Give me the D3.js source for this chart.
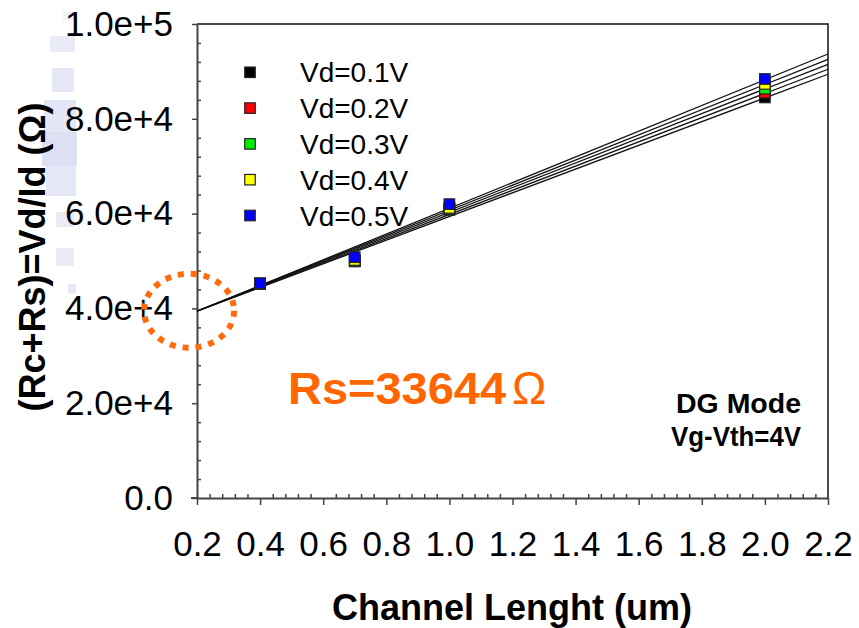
<!DOCTYPE html>
<html>
<head>
  <meta charset="utf-8" />
  <title>Rs extraction</title>
  <style>
    body { margin: 0; background: #fff; }
    svg { display: block; font-family: "Liberation Sans", Arial, sans-serif; }
  </style>
  <script src="https://cdnjs.cloudflare.com/ajax/libs/d3/7.8.5/d3.min.js"></script>
</head>
<body>
  <div id="chart"></div>
  <script>
    // channel lengths (um)
    var lengths = [0.4, 0.7, 1.0, 2.0];
    var seriesNames = ['Vd=0.1V', 'Vd=0.2V', 'Vd=0.3V', 'Vd=0.4V', 'Vd=0.5V'];
    var seriesColors = ['#000000', '#ff0000', '#00ee00', '#ffff00', '#0000ff'];
    // (Rc+Rs) in ohm, one array per Vd
    var vd01 = [45200, 49900, 60800, 84500];
    var vd02 = [45200, 50000, 60900, 85500];
    var vd03 = [45250, 50000, 61000, 86350];
    var vd04 = [45250, 50200, 61200, 87350];
    var vd05 = [45300, 50800, 62000, 88400];
    // fitted lines, value at L=0.2 and L=2.2
    var fitStart = [39400, 39400, 39450, 39450, 39400];
    var fitEnd = [89400, 90450, 91500, 92550, 93670];
    var xTickValues = [0.2, 0.4, 0.6, 0.8, 1.0, 1.2, 1.4, 1.6, 1.8, 2.0, 2.2];
    var yTickValues = [0, 20000, 40000, 60000, 80000, 100000];
    var yTickLabels = ['0.0', '2.0e+4', '4.0e+4', '6.0e+4', '8.0e+4', '1.0e+5'];
    var rsText = 'Rs=33644';
    var modeText = ['DG Mode', 'Vg-Vth=4V'];

    var allSeries = [vd01, vd02, vd03, vd04, vd05];

    var W = 859, H = 628;
    var margin = { top: 24, right: 31, bottom: 130, left: 197 };
    var w = W - margin.left - margin.right,
      h = H - margin.top - margin.bottom;

    var svg = d3.select('#chart').append('svg')
      .attr('width', W)
      .attr('height', H);

    // faded scan noise at left edge of the original figure
    var noise = [[63, 12, 12, 8, 0.15], [50, 36, 25, 16, 0.22], [52, 68, 22, 24, 0.25],
      [44, 100, 32, 32, 0.28], [42, 132, 35, 34, 0.34], [46, 166, 30, 30, 0.26],
      [56, 212, 18, 15, 0.22], [56, 248, 18, 18, 0.22], [68, 284, 8, 9, 0.25]];
    svg.append('g').selectAll('rect').data(noise).enter().append('rect')
      .attr('x', d => d[0]).attr('y', d => d[1])
      .attr('width', d => d[2]).attr('height', d => d[3])
      .attr('fill', '#9aa5dc').attr('opacity', d => d[4]);

    var g = svg.append('g').attr('transform', 'translate(' + margin.left + ',' + margin.top + ')');

    var x = d3.scaleLinear().domain([0.2, 2.2]).range([0, w]);
    var y = d3.scaleLinear().domain([0, 100000]).range([h, 0]);

    // frame (top and right)
    g.append('path')
      .attr('d', 'M0,0H' + w + 'V' + h)
      .attr('fill', 'none').attr('stroke', '#111').attr('stroke-width', 1.5);

    // minor ticks (inside)
    var xMinor = d3.axisTop(x).tickValues(d3.range(0.2, 2.2001, 0.04).filter(v => Math.abs(v * 5 - Math.round(v * 5)) > 0.01))
      .tickSize(4).tickFormat('');
    g.append('g').attr('transform', 'translate(0,' + h + ')').call(xMinor)
      .call(a => a.select('.domain').remove());
    var yMinor = d3.axisRight(y).tickValues(d3.range(0, 100001, 4000).filter(v => v % 20000 !== 0))
      .tickSize(4).tickFormat('');
    g.append('g').call(yMinor).call(a => a.select('.domain').remove());

    // major axes
    var xAxis = d3.axisBottom(x).tickValues(xTickValues).tickSize(7).tickSizeOuter(0).tickPadding(26)
      .tickFormat(d => d.toFixed(1));
    g.append('g').attr('class', 'xaxis').attr('transform', 'translate(0,' + h + ')').call(xAxis);
    var yAxis = d3.axisLeft(y).tickValues(yTickValues).tickSize(5).tickSizeOuter(0).tickPadding(19)
      .tickFormat((d, i) => yTickLabels[i]);
    g.append('g').attr('class', 'yaxis').call(yAxis);

    g.selectAll('.xaxis, .yaxis').selectAll('.domain').attr('stroke', '#444').attr('stroke-width', 2);
    g.selectAll('.tick line').attr('stroke', '#444').attr('stroke-width', 1.5);
    g.selectAll('.xaxis text, .yaxis text')
      .attr('font-size', 35).attr('fill', '#000')
      .attr('font-family', '"Liberation Sans", Arial, sans-serif');
    // axis line extends a bit left past the origin
    g.append('line').attr('x1', -6).attr('x2', 0).attr('y1', h).attr('y2', h)
      .attr('stroke', '#444').attr('stroke-width', 2);

    // fit lines
    g.append('g').selectAll('line').data(fitStart).enter().append('line')
      .attr('x1', x(0.2)).attr('x2', x(2.2))
      .attr('y1', d => y(d)).attr('y2', (d, i) => y(fitEnd[i]))
      .attr('stroke', '#111').attr('stroke-width', 1.3);

    // markers
    var ms = 10.5;
    allSeries.forEach(function (vals, si) {
      g.append('g').selectAll('rect').data(vals).enter().append('rect')
        .attr('x', (d, i) => x(lengths[i]) - ms / 2)
        .attr('y', d => y(d) - ms / 2)
        .attr('width', ms).attr('height', ms)
        .attr('fill', seriesColors[si])
        .attr('stroke', '#222').attr('stroke-width', 1.2);
    });

    // legend
    var legend = svg.append('g').selectAll('g').data(seriesNames).enter().append('g')
      .attr('transform', (d, i) => 'translate(250,' + (72.3 + i * 35.8) + ')');
    legend.append('rect')
      .attr('x', -ms / 2).attr('y', -ms / 2).attr('width', ms).attr('height', ms)
      .attr('fill', (d, i) => seriesColors[i]).attr('stroke', '#222').attr('stroke-width', 1.2);
    legend.append('text')
      .attr('x', 50).attr('dy', '0.36em')
      .attr('font-size', 28).text(d => d);

    // dotted circle around the intercept
    g.append('ellipse')
      .attr('cx', x(0.175)).attr('cy', y(39500))
      .attr('rx', 45).attr('ry', 37)
      .attr('fill', 'none').attr('stroke', '#ff6a0a')
      .attr('stroke-width', 6).attr('stroke-dasharray', '6 7');

    // Rs annotation
    var rs = svg.append('text')
      .attr('x', 288).attr('y', 404)
      .attr('fill', '#ff6600');
    rs.append('tspan').attr('font-weight', 'bold').attr('font-size', 44)
      .attr('textLength', 218).attr('lengthAdjust', 'spacingAndGlyphs').text(rsText);
    rs.append('tspan').attr('dx', 6).attr('font-size', 46).text('Ω');

    svg.selectAll('.mode').data(modeText).enter().append('text')
      .attr('class', 'mode')
      .attr('x', 801).attr('y', (d, i) => 413 + i * 33)
      .attr('text-anchor', 'end')
      .attr('font-weight', 'bold').attr('font-size', 27)
      .attr('textLength', (d, i) => i === 0 ? 125 : 130)
      .attr('lengthAdjust', 'spacingAndGlyphs')
      .text(d => d);

    // axis titles
    svg.append('text')
      .attr('x', 512).attr('y', 620)
      .attr('text-anchor', 'middle')
      .attr('font-weight', 'bold').attr('font-size', 36)
      .text('Channel Lenght (um)');

    svg.append('text')
      .attr('transform', 'translate(45,257) rotate(-90)')
      .attr('text-anchor', 'middle')
      .attr('font-weight', 'bold').attr('font-size', 36)
      .text('(Rc+Rs)=Vd/Id (Ω)');
  </script>
</body>
</html>
